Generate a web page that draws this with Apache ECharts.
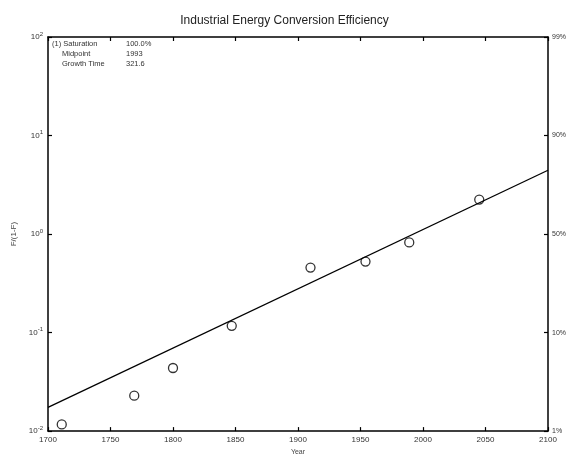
<!DOCTYPE html>
<html>
<head>
<meta charset="utf-8">
<script src="https://cdn.jsdelivr.net/npm/echarts@6/dist/echarts.min.js"></script>
<style>html,body{margin:0;padding:0;background:#fff}#c{width:569px;height:461px}</style>
</head>
<body>
<div id="c"></div>
<script>
var titleText = 'Industrial Energy Conversion Efficiency';
var xTicks = [1700, 1750, 1800, 1850, 1900, 1950, 2000, 2050, 2100];
var obsYears = [1711, 1769, 1800, 1847, 1910, 1954, 1989, 2045];
var obsValues = [0.0117, 0.0229, 0.0437, 0.117, 0.457, 0.525, 0.822, 2.24];
var fitYears = [1700, 2100];
var fitValues = [0.0174, 4.44];
var leftLabels = {'-2': '10', '-1': '10', '0': '10', '1': '10', '2': '10'};
var rightLabels = {'-2': '1%', '-1': '10%', '0': '50%', '1': '90%', '2': '99%'};
var legendLines = [['(1) Saturation', '100.0%'], ['Midpoint', '1993'], ['Growth Time', '321.6']];

var chart = echarts.init(document.getElementById('c'));
var ff = 'Liberation Sans, Arial, sans-serif';
function expOf(v){ return Math.round(Math.log10(v)); }
var axisLine = {lineStyle: {color: '#000', width: 1.5}};
var axisTick = {inside: true, length: 4, lineStyle: {color: '#000', width: 1.2}};
var graphics = [];
legendLines.forEach(function(l, i){
  graphics.push({type: 'text', left: i === 0 ? 52 : 62, top: 40 + i * 10, style: {text: l[0], font: '7.5px ' + ff, fill: '#333'}});
  graphics.push({type: 'text', left: 126, top: 40 + i * 10, style: {text: l[1], font: '7.5px ' + ff, fill: '#333'}});
});
chart.setOption({
  backgroundColor: '#fff',
  animation: false,
  title: {text: titleText, left: 'center', top: 10, textStyle: {fontFamily: ff, fontSize: 12, fontWeight: 'normal', color: '#222'}},
  grid: {left: 48, right: 19, top: 37, bottom: 25},
  graphic: graphics,
  xAxis: [
    {type: 'value', min: 1700, max: 2100, interval: 50, position: 'bottom',
     name: 'Year', nameLocation: 'middle', nameGap: 16, nameTextStyle: {fontFamily: ff, fontSize: 7, color: '#444'},
     axisLine: axisLine, axisTick: axisTick, splitLine: {show: false},
     axisLabel: {fontFamily: ff, fontSize: 8, color: '#333', margin: 5, formatter: function(v){ return String(v); }}},
    {type: 'value', min: 1700, max: 2100, interval: 50, position: 'top',
     axisLine: axisLine, axisTick: axisTick, splitLine: {show: false}, axisLabel: {show: false}}
  ],
  yAxis: [
    {type: 'log', logBase: 10, min: 0.01, max: 100, position: 'left',
     name: 'F/(1-F)', nameLocation: 'middle', nameGap: 30, nameTextStyle: {fontFamily: ff, fontSize: 8, color: '#444'},
     axisLine: axisLine, axisTick: axisTick, splitLine: {show: false}, minorTick: {show: false},
     axisLabel: {margin: 5, formatter: function(v){ var e = expOf(v); return leftLabels[e] + '{s|' + e + '}'; },
       fontFamily: ff, fontSize: 8, color: '#333', rich: {s: {fontSize: 6, verticalAlign: 'top', padding: [0,0,6,0], fontFamily: ff, color: '#333'}}}},
    {type: 'log', logBase: 10, min: 0.01, max: 100, position: 'right',
     axisLine: axisLine, axisTick: axisTick, splitLine: {show: false},
     axisLabel: {margin: 4, formatter: function(v){ return rightLabels[expOf(v)]; }, fontFamily: ff, fontSize: 7, color: '#333'}}
  ],
  series: [
    {type: 'line', xAxisIndex: 0, yAxisIndex: 0, data: fitYears.map(function(y, i){ return [y, fitValues[i]]; }),
     symbol: 'none', lineStyle: {color: '#000', width: 1.3}},
    {type: 'scatter', xAxisIndex: 0, yAxisIndex: 0, data: obsYears.map(function(y, i){ return [y, obsValues[i]]; }),
     symbol: 'circle', symbolSize: 9, itemStyle: {color: '#fff', borderColor: '#000', borderWidth: 1.3}}
  ]
});
</script>
</body>
</html>
